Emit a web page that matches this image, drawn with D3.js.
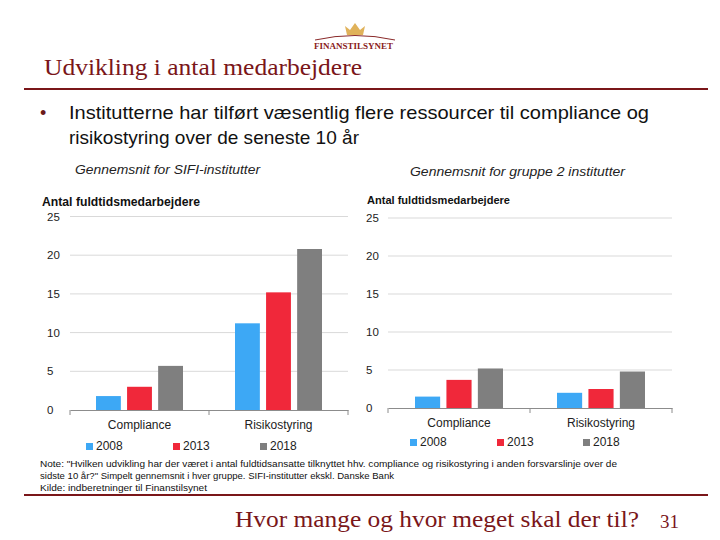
<!DOCTYPE html>
<html><head><meta charset="utf-8">
<script src="https://cdn.jsdelivr.net/npm/d3@7"></script>
<style>body{margin:0;background:#fff}svg{display:block}</style>
</head><body>
<script>
const categories = ["Compliance", "Risikostyring"];
const years = ["2008", "2013", "2018"];
const sifiValues = { "2008": [1.8, 11.2], "2013": [3.0, 15.2], "2018": [5.7, 20.8] };
const gruppe2Values = { "2008": [1.5, 2.0], "2013": [3.7, 2.5], "2018": [5.2, 4.8] };
const yTicks = [0, 5, 10, 15, 20, 25];
const colors = { "2008": "#3da8f5", "2013": "#f0283a", "2018": "#7f7f7f" };
const darkRed = "#7a1619";

const svg = d3.select("body").append("svg").attr("width", 720).attr("height", 540);

function fitText(sel, len) {
  return sel.attr("textLength", len).attr("lengthAdjust", "spacingAndGlyphs");
}

// Logo
const logo = svg.append("g");
logo.append("path").attr("d", "M315,40 Q355,31 395,40").attr("fill", "none").attr("stroke", "#8a2a2a").attr("stroke-width", 1);
logo.append("path").attr("d", "M347,35 L345,26 L350,30 L355,23 L360,30 L365,26 L363,35 Z").attr("fill", "#e0b25a");
fitText(logo.append("text").attr("x", 314).attr("y", 49)
  .attr("font-family", "Liberation Serif").attr("font-size", 8).attr("font-weight", "bold")
  .attr("fill", "#8a2020").text("FINANSTILSYNET"), 79);

// Title
fitText(svg.append("text").attr("x", 44).attr("y", 75).attr("font-family", "Liberation Serif")
  .attr("font-size", 23).attr("fill", darkRed).text("Udvikling i antal medarbejdere"), 318);
svg.append("line").attr("x1", 24).attr("x2", 708).attr("y1", 89).attr("y2", 89).attr("stroke", darkRed).attr("stroke-width", 2);

// Bullet
svg.append("text").attr("x", 40).attr("y", 119).attr("font-family", "Liberation Sans").attr("font-size", 18).attr("fill", "#6b1a1a").text("•");
fitText(svg.append("text").attr("x", 69).attr("y", 119).attr("font-family", "Liberation Sans").attr("font-size", 19).attr("fill", "#111")
  .text("Institutterne har tilført væsentlig flere ressourcer til compliance og"), 580);
fitText(svg.append("text").attr("x", 69).attr("y", 144).attr("font-family", "Liberation Sans").attr("font-size", 19).attr("fill", "#111")
  .text("risikostyring over de seneste 10 år"), 290);

function drawChart(cfg) {
  const g = svg.append("g");
  const y = d3.scaleLinear().domain([0, 25]).range([cfg.y0, cfg.y25]);
  const x0 = d3.scaleBand().domain(categories).range([cfg.xl, cfg.xr]).paddingInner(0).paddingOuter(0);
  const x1 = d3.scaleBand().domain(years).range([cfg.gIn, x0.bandwidth() - cfg.gIn]).paddingInner(0.2);

  fitText(g.append("text").attr("x", cfg.titleX).attr("y", cfg.titleY)
    .attr("font-family", "Liberation Sans").attr("font-style", "italic").attr("font-size", 13.5).attr("fill", "#222").text(cfg.title), cfg.titleLen);
  fitText(g.append("text").attr("x", cfg.atX).attr("y", cfg.atY).attr("font-family", "Liberation Sans")
    .attr("font-weight", "bold").attr("font-size", cfg.atSize).attr("fill", "#111").text("Antal fuldtidsmedarbejdere"), cfg.atLen);

  // gridlines
  g.selectAll(".grid").data(yTicks.filter(d => d > 0)).join("line")
    .attr("x1", cfg.xl).attr("x2", cfg.xr).attr("y1", d => y(d)).attr("y2", d => y(d))
    .attr("stroke", "#d9d9d9").attr("stroke-width", 1);

  // y axis labels
  const ya = g.append("g").attr("transform", `translate(${cfg.labX},0)`)
    .call(d3.axisLeft(y).tickValues(yTicks).tickSize(0).tickPadding(0));
  ya.select(".domain").remove();
  ya.selectAll("text").attr("text-anchor", "start").attr("font-family", "Liberation Sans").attr("font-size", 11.5).attr("fill", "#222");

  // bars
  years.forEach(yr => {
    g.selectAll(".b" + yr).data(categories).join("rect")
      .attr("x", (c) => x0(c) + x1(yr)).attr("width", x1.bandwidth())
      .attr("y", (c, i) => y(cfg.values[yr][i])).attr("height", (c, i) => y(0) - y(cfg.values[yr][i]))
      .attr("fill", colors[yr]);
  });

  // x axis
  const xa = g.append("g").attr("transform", `translate(0,${cfg.y0})`)
    .call(d3.axisBottom(x0).tickSize(0).tickPadding(10));
  xa.select(".domain").attr("stroke", "#8c8c8c");
  xa.selectAll("text").attr("font-family", "Liberation Sans").attr("font-size", 12).attr("fill", "#222");
  [cfg.xl, (cfg.xl + cfg.xr) / 2, cfg.xr].forEach(t => {
    g.append("line").attr("x1", t).attr("x2", t).attr("y1", cfg.y0).attr("y2", cfg.y0 + 5).attr("stroke", "#8c8c8c");
  });

  // legend
  years.forEach((yr, i) => {
    g.append("rect").attr("x", cfg.legX[i]).attr("y", cfg.legY - 7).attr("width", 7).attr("height", 7).attr("fill", colors[yr]);
    g.append("text").attr("x", cfg.legX[i] + 10).attr("y", cfg.legY).attr("font-family", "Liberation Sans")
      .attr("font-size", 12).attr("fill", "#222").text(yr);
  });
}

drawChart({
  values: sifiValues, xl: 70, xr: 348, y0: 410, y25: 216.5, gIn: 26, labX: 47,
  title: "Gennemsnit for SIFI-institutter", titleX: 75, titleY: 174, titleLen: 185,
  atX: 42, atY: 206, atSize: 12, atLen: 158,
  legX: [86, 173, 260], legY: 450
});
drawChart({
  values: gruppe2Values, xl: 388, xr: 672, y0: 408, y25: 218, gIn: 27, labX: 366,
  title: "Gennemsnit for gruppe 2 institutter", titleX: 410, titleY: 176, titleLen: 215,
  atX: 367, atY: 204, atSize: 11, atLen: 143,
  legX: [410, 497, 583], legY: 446
});

// note
const note = ["Note: \"Hvilken udvikling har der været i antal fuldtidsansatte tilknyttet hhv. compliance og risikostyring i anden forsvarslinje over de",
  "sidste 10 år?\" Simpelt gennemsnit i hver gruppe. SIFI-institutter ekskl. Danske Bank",
  "Kilde: indberetninger til Finanstilsynet"];
const noteLen = [577, 354, 167];
note.forEach((t, i) => fitText(svg.append("text").attr("x", 40).attr("y", 467 + i * 12).attr("font-family", "Liberation Sans")
  .attr("font-size", 9.5).attr("fill", "#111").text(t), noteLen[i]));
svg.append("line").attr("x1", 24).attr("x2", 708).attr("y1", 495).attr("y2", 495).attr("stroke", darkRed).attr("stroke-width", 2);

fitText(svg.append("text").attr("x", 235).attr("y", 527).attr("font-family", "Liberation Serif")
  .attr("font-size", 24).attr("fill", darkRed).text("Hvor mange og hvor meget skal der til?"), 404);
fitText(svg.append("text").attr("x", 660).attr("y", 528).attr("font-family", "Liberation Serif")
  .attr("font-size", 19).attr("fill", darkRed).text("31"), 19);
</script>
</body></html>
